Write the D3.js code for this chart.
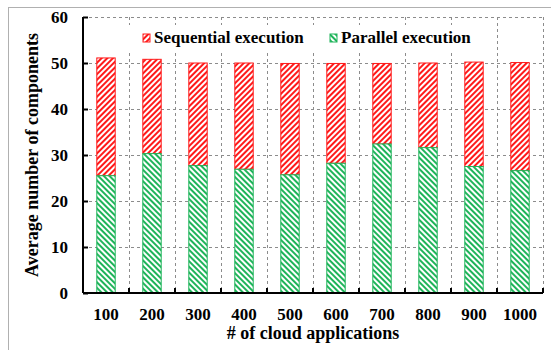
<!DOCTYPE html>
<html>
<head>
<meta charset="utf-8">
<script src="https://cdn.jsdelivr.net/npm/d3@7"></script>
<style>
  html, body { margin: 0; padding: 0; background: #fff; }
  svg { display: block; }
</style>
</head>
<body>
<svg id="chart" width="551" height="350" font-family="'Liberation Serif', 'Times New Roman', Times, serif" font-weight="bold"></svg>
<script>
// Number of cloud applications (x categories)
const categories = ["100", "200", "300", "400", "500", "600", "700", "800", "900", "1000"];
// Average components executed in parallel (bottom segment)
const parallel = [25.5, 30.3, 27.7, 26.9, 25.7, 28.2, 32.4, 31.6, 27.5, 26.6];
// Average components executed sequentially (top segment)
const sequential = [25.6, 20.5, 22.3, 23.1, 24.2, 21.7, 17.5, 18.4, 22.7, 23.5];
const yTicks = [0, 10, 20, 30, 40, 50, 60];
const seriesNames = ["Sequential execution", "Parallel execution"];

const FONT = "'Liberation Serif', 'Times New Roman', Times, serif";
const svg = d3.select("#chart");
const margin = { left: 83, right: 8, top: 17, bottom: 57 };
const W = 551, H = 350;
const x0 = margin.left, x1 = W - margin.right;
const y0 = H - margin.bottom, y1 = margin.top;

const red = "#ff1a1a", green = "#1fb45a";

// Outer frame
svg.append("line").attr("x1", 8.5).attr("x2", 8.5).attr("y1", 7).attr("y2", 350)
  .attr("stroke", "#b0b0b0").attr("stroke-width", 1);
svg.append("line").attr("x1", 8).attr("x2", 551).attr("y1", 7.5).attr("y2", 7.5)
  .attr("stroke", "#b0b0b0").attr("stroke-width", 1);

// Hatch patterns
const defs = svg.append("defs");
function hatch(id, color, angle) {
  const p = defs.append("pattern").attr("id", id)
    .attr("patternUnits", "userSpaceOnUse").attr("width", 4).attr("height", 4)
    .attr("patternTransform", `rotate(${angle})`);
  p.append("rect").attr("width", 4).attr("height", 4).attr("fill", "#fff");
  p.append("line").attr("x1", 1).attr("x2", 1).attr("y1", 0).attr("y2", 4)
    .attr("stroke", color).attr("stroke-width", 2);
}
hatch("hatchSeq", red, 45);
hatch("hatchPar", green, -45);

const x = d3.scaleBand().domain(categories).range([x0, x1]).paddingInner(0).paddingOuter(0);
const y = d3.scaleLinear().domain([0, 60]).range([y0, y1]);

// Grid lines
const grid = svg.append("g").attr("stroke", "#8c8c8c").attr("stroke-dasharray", "3,3").attr("stroke-width", 1);
yTicks.filter(v => v > 0).forEach(v => {
  grid.append("line").attr("x1", x0).attr("x2", x1)
    .attr("y1", Math.round(y(v)) + 0.5).attr("y2", Math.round(y(v)) + 0.5);
});
const bounds = categories.map(c => x(c) + x.bandwidth());
bounds.forEach(bx => {
  grid.append("line").attr("x1", Math.round(bx) + 0.5).attr("x2", Math.round(bx) + 0.5)
    .attr("y1", y1).attr("y2", y0);
});

// Legend background (hides grid behind the legend)
svg.append("rect").attr("x", 122).attr("y", 25).attr("width", 356).attr("height", 26).attr("fill", "#fff");

// Bars
const barW = x.bandwidth() * 0.4;
const bars = svg.append("g");
categories.forEach((c, i) => {
  const bx = x(c) + (x.bandwidth() - barW) / 2;
  const pTop = parallel[i];
  const sTop = parallel[i] + sequential[i];
  bars.append("rect").attr("x", bx).attr("width", barW)
    .attr("y", y(sTop)).attr("height", y(pTop) - y(sTop))
    .attr("fill", "url(#hatchSeq)").attr("stroke", red).attr("stroke-width", 1);
  bars.append("rect").attr("x", bx).attr("width", barW)
    .attr("y", y(pTop)).attr("height", y(0) - y(pTop))
    .attr("fill", "url(#hatchPar)").attr("stroke", green).attr("stroke-width", 1);
});

// Axes
const yAxis = d3.axisLeft(y).tickValues(yTicks).tickSize(-5).tickPadding(15);
const gy = svg.append("g").attr("transform", `translate(${x0},0)`).call(yAxis)
  .attr("font-family", FONT).attr("font-weight", "bold").attr("font-size", 17);
gy.select(".domain").attr("stroke", "#000").attr("stroke-width", 2).attr("d", `M0,${y1}V${y0}`);
gy.selectAll(".tick line").attr("stroke", "#000").attr("stroke-width", 2);
gy.selectAll(".tick text").attr("fill", "#000");

const gx = svg.append("g").attr("transform", `translate(0,${y0})`)
  .call(d3.axisBottom(x).tickSize(0).tickPadding(15))
  .attr("font-family", FONT).attr("font-weight", "bold").attr("font-size", 17);
gx.select(".domain").attr("stroke", "#000").attr("stroke-width", 2).attr("d", `M${x0},0H${x1}`);
gx.selectAll(".tick text").attr("fill", "#000");
// tick marks at category boundaries
bounds.forEach(bx => {
  gx.append("line").attr("x1", bx).attr("x2", bx).attr("y1", 0).attr("y2", -5)
    .attr("stroke", "#000").attr("stroke-width", 2);
});

// Axis titles
svg.append("text").attr("x", (x0 + x1) / 2).attr("y", 339).attr("text-anchor", "middle")
  .attr("font-size", 18).text("# of cloud applications");
svg.append("text").attr("transform", `translate(38,${(y0 + y1) / 2}) rotate(-90)`)
  .attr("text-anchor", "middle").attr("font-size", 18).text("Average number of components");

// Legend
const legend = [
  { name: seriesNames[0], fill: "url(#hatchSeq)", stroke: red, lx: 143 },
  { name: seriesNames[1], fill: "url(#hatchPar)", stroke: green, lx: 330 }
];
legend.forEach(l => {
  svg.append("rect").attr("x", l.lx).attr("y", 34).attr("width", 7).attr("height", 8)
    .attr("fill", l.fill).attr("stroke", l.stroke).attr("stroke-width", 1);
  svg.append("text").attr("x", l.lx + 11).attr("y", 43).attr("font-size", 17).text(l.name);
});
</script>
</body>
</html>
